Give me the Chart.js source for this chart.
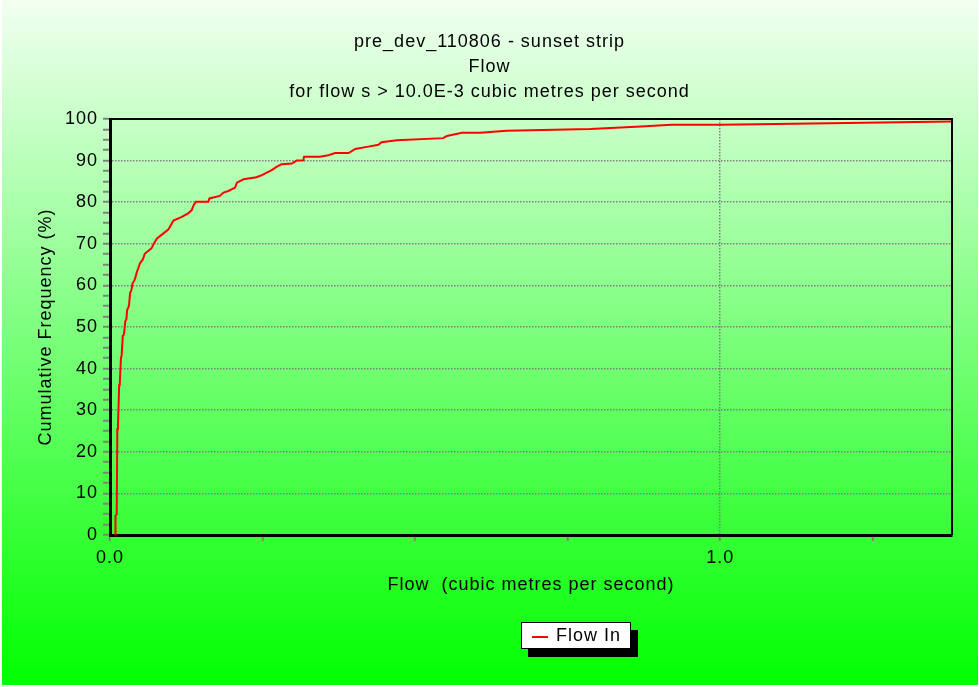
<!DOCTYPE html>
<html>
<head>
<meta charset="utf-8">
<title>Flow In - cumulative frequency</title>
<script src="https://cdn.jsdelivr.net/npm/chart.js@4.4.0/dist/chart.umd.min.js"></script>
<style>
  html, body { margin: 0; padding: 0; background: #ffffff; }
  canvas { display: block; }
</style>
</head>
<body>
<canvas id="flowChart" width="979" height="687"></canvas>
<script>
// Flow In cumulative frequency
var flowValues = [0.009, 0.009, 0.011, 0.012, 0.013, 0.015, 0.016, 0.018, 0.019, 0.021,
  0.023, 0.025, 0.027, 0.028, 0.031, 0.033, 0.035, 0.037, 0.040, 0.042,
  0.044, 0.046, 0.049, 0.054, 0.057, 0.062, 0.068, 0.072, 0.077, 0.085,
  0.096, 0.104, 0.117, 0.128, 0.134, 0.137, 0.141, 0.161, 0.163, 0.180,
  0.186, 0.194, 0.205, 0.208, 0.219, 0.240, 0.249, 0.257, 0.265, 0.273,
  0.281, 0.298, 0.306, 0.317, 0.318, 0.344, 0.358, 0.369, 0.391, 0.402,
  0.421, 0.440, 0.445, 0.470, 0.546, 0.552, 0.577, 0.607, 0.650, 0.787,
  0.870, 0.920, 1.000, 1.180, 1.320, 1.380];
var cumFrequency = [0, 4.6, 5.0, 25.4, 25.8, 36.0, 36.4, 42.6, 43.0, 47.8,
  48.3, 51.3, 52.0, 54.1, 55.0, 58.2, 58.8, 60.5, 61.2, 62.1,
  63.2, 64.0, 65.3, 66.3, 67.6, 68.2, 68.9, 70.1, 71.3, 72.2,
  73.5, 75.6, 76.4, 77.3, 78.1, 79.3, 80.1, 80.1, 80.9, 81.5,
  82.3, 82.7, 83.5, 84.7, 85.5, 86.0, 86.5, 87.1, 87.7, 88.5,
  89.1, 89.3, 90.0, 90.1, 90.9, 90.9, 91.3, 91.8, 91.8, 92.8,
  93.3, 93.8, 94.4, 94.9, 95.4, 95.9, 96.7, 96.7, 97.2, 97.6,
  98.2, 98.6, 98.6, 99.0, 99.3, 99.4];

var titleLines = ["pre_dev_110806 - sunset strip", "Flow", "for flow s > 10.0E-3 cubic metres per second"];
var seriesName = "Flow In";
var xTitle = "Flow  (cubic metres per second)";
var yTitle = "Cumulative Frequency (%)";
var xLabelled = [0, 1];   // only these x ticks carry a label
var xLabels = ["0.0", "1.0"];

var FONT = "'Liberation Sans', Arial, sans-serif";
var GRID = "#808080";

var points = flowValues.map(function (v, i) { return { x: v, y: cumFrequency[i] }; });

// background, frame and boxed legend
var decor = {
  id: 'decor',
  beforeLayout: function (chart) { chart.ctx.letterSpacing = '1px'; },
  beforeDraw: function (chart) {
    var ctx = chart.ctx, w = chart.width, h = chart.height;
    ctx.save();
    ctx.fillStyle = '#ffffff';
    ctx.fillRect(0, 0, w, h);
    var g = ctx.createLinearGradient(0, 0, 0, h);
    g.addColorStop(0, 'rgb(242,255,242)');
    g.addColorStop(1, 'rgb(0,255,0)');
    ctx.fillStyle = g;
    ctx.fillRect(2, 0, w - 3, h - 2);
    ctx.restore();
    ctx.letterSpacing = '1px';
  },
  afterDatasetsDraw: function (chart) {
    var ctx = chart.ctx, a = chart.chartArea;
    ctx.save();
    ctx.strokeStyle = '#000';
    ctx.lineWidth = 2;
    ctx.beginPath();
    ctx.moveTo(a.left, a.top);
    ctx.lineTo(a.right, a.top);
    ctx.lineTo(a.right, a.bottom);
    ctx.stroke();
    ctx.restore();
  },
  afterDraw: function (chart) {
    var ctx = chart.ctx;
    var ds = chart.data.datasets[0];
    var bx = 521, by = 622, bw = 110, bh = 27;
    ctx.save();
    ctx.fillStyle = '#000';
    ctx.fillRect(bx + 7, by + 8, bw, bh);
    ctx.fillStyle = '#fff';
    ctx.fillRect(bx, by, bw, bh);
    ctx.strokeStyle = '#000';
    ctx.lineWidth = 1;
    ctx.strokeRect(bx + 0.5, by + 0.5, bw - 1, bh - 1);
    ctx.strokeStyle = ds.borderColor;
    ctx.lineWidth = 2;
    ctx.beginPath();
    ctx.moveTo(bx + 11, by + 15);
    ctx.lineTo(bx + 27, by + 15);
    ctx.stroke();
    ctx.letterSpacing = '1px';
    ctx.fillStyle = '#000';
    ctx.font = '18px ' + FONT;
    ctx.textBaseline = 'middle';
    ctx.fillText(ds.label, bx + 35, by + 14);
    ctx.restore();
  }
};

new Chart(document.getElementById('flowChart'), {
  type: 'line',
  data: {
    datasets: [{
      label: seriesName,
      data: points,
      borderColor: '#ff0000',
      borderWidth: 2,
      pointRadius: 0,
      tension: 0,
      fill: false
    }]
  },
  options: {
    responsive: false,
    animation: false,
    devicePixelRatio: 1,
    layout: { padding: { top: 0, right: 27, bottom: 0, left: 27 } },
    plugins: {
      legend: { display: false },
      tooltip: { enabled: false },
      title: {
        display: true,
        text: titleLines,
        color: '#000',
        font: { family: FONT, size: 18, weight: 'normal', lineHeight: 25 / 18 },
        padding: { top: 29.5, bottom: 14.5 }
      }
    },
    scales: {
      x: {
        type: 'linear',
        min: 0,
        max: 1.38,
        afterFit: function (scale) { scale.height = 152; },
        afterBuildTicks: function (scale) {
          scale.ticks = scale.ticks.filter(function (t) {
            var q = t.value / 0.25;
            return Math.abs(q - Math.round(q)) < 1e-6;
          });
        },
        ticks: {
          stepSize: 0.25,
          autoSkip: false,
          maxRotation: 0,
          padding: 6,
          color: '#000',
          font: { family: FONT, size: 18 },
          callback: function (v) {
            var i = xLabelled.indexOf(Math.round(v * 100) / 100);
            return i >= 0 ? xLabels[i] : '';
          }
        },
        grid: {
          color: function (c) { return c.tick && c.tick.value === 1 ? GRID : 'rgba(0,0,0,0)'; },
          lineWidth: 1.5,
          tickColor: GRID,
          tickWidth: 2,
          tickLength: 6
        },
        border: { display: true, color: '#000', width: 3, dash: [1.5, 1.5] },
        title: {
          display: true,
          text: xTitle,
          color: '#000',
          font: { family: FONT, size: 18 },
          padding: { top: 0, bottom: 91 }
        }
      },
      y: {
        min: 0,
        max: 100,
        afterFit: function (scale) { scale.width = 83; },
        ticks: {
          stepSize: 2.5,
          autoSkip: false,
          padding: 5,
          color: '#000',
          font: { family: FONT, size: 18 },
          callback: function (v) { return v % 10 === 0 ? v : ''; }
        },
        grid: {
          color: function (c) {
            var v = c.tick ? c.tick.value : 0;
            return (v % 10 === 0 && v > 0 && v < 100) ? GRID : 'rgba(0,0,0,0)';
          },
          lineWidth: 1.5,
          tickColor: GRID,
          tickWidth: 2,
          tickLength: 7
        },
        border: { display: true, color: '#000', width: 3, dash: [1.5, 1.5] },
        title: {
          display: true,
          text: yTitle,
          color: '#000',
          font: { family: FONT, size: 18 },
          padding: { top: 8, bottom: 0 }
        }
      }
    }
  },
  plugins: [decor]
});
</script>
</body>
</html>
